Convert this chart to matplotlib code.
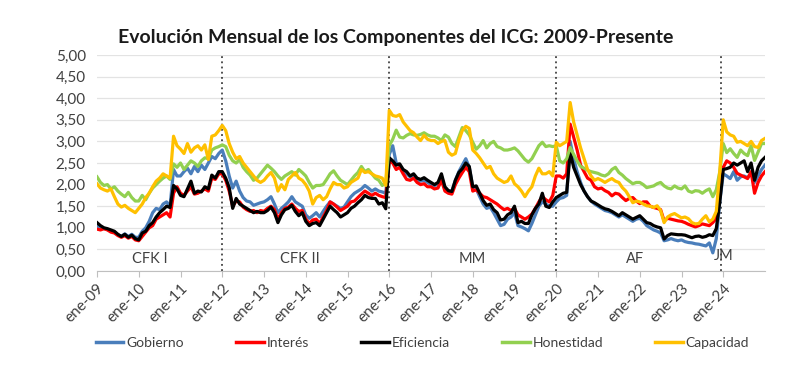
import matplotlib
matplotlib.use("Agg")
import matplotlib.pyplot as plt
from matplotlib.lines import Line2D
import numpy as np

plt.rcParams['font.family'] = ['Lato', 'DejaVu Sans']

# Monthly series, ene-09 .. ene-25 (one row per year)
gobierno = [
    1.05, 1.00, 0.98, 0.96, 0.93, 0.90, 0.84, 0.80, 0.86, 0.80, 0.85, 0.78,
    0.78, 0.92, 1.00, 1.15, 1.35, 1.45, 1.42, 1.55, 1.60, 1.50, 2.35, 2.20,
    2.20, 2.30, 2.38, 2.25, 2.42, 2.30, 2.45, 2.35, 2.50, 2.65, 2.60, 2.72,
    2.80, 2.55, 2.20, 1.92, 2.08, 1.85, 1.70, 1.62, 1.60, 1.52, 1.55, 1.58,
    1.60, 1.65, 1.72, 1.55, 1.35, 1.45, 1.52, 1.60, 1.72, 1.60, 1.55, 1.50,
    1.30, 1.22, 1.28, 1.35, 1.25, 1.38, 1.50, 1.60, 1.55, 1.50, 1.45, 1.48,
    1.60, 1.72, 1.80, 1.85, 1.90, 1.98, 1.92, 1.85, 1.90, 1.85, 1.83, 1.80,
    2.70, 2.90, 2.50, 2.45, 2.30, 2.25, 2.18, 2.22, 2.10, 2.08, 2.10, 2.05,
    2.00, 1.98, 2.00, 2.20, 1.90, 1.85, 1.85, 2.10, 2.30, 2.45, 2.60, 2.40,
    1.95, 1.90, 1.72, 1.55, 1.45, 1.48, 1.35, 1.20, 1.05, 1.08, 1.20, 1.25,
    1.35, 1.05, 1.02, 0.98, 0.93, 1.10, 1.30, 1.50, 1.60, 1.55, 1.50, 1.50,
    1.60, 1.68, 1.70, 1.75, 3.00, 2.60, 2.30, 2.05, 1.85, 1.72, 1.62, 1.55,
    1.50, 1.45, 1.40, 1.38, 1.35, 1.30, 1.25, 1.30, 1.25, 1.20, 1.15, 1.20,
    1.22, 1.15, 1.05, 1.00, 0.95, 0.92, 0.88, 0.70, 0.72, 0.75, 0.72, 0.70,
    0.72, 0.68, 0.66, 0.65, 0.63, 0.62, 0.60, 0.58, 0.65, 0.42, 0.75, 1.60,
    2.25, 2.20, 2.14, 2.30, 2.10, 2.18, 2.20, 2.16, 2.25, 2.05, 2.20, 2.35,
    2.45,
]
interes = [
    0.97, 0.95, 0.98, 0.95, 0.90, 0.88, 0.82, 0.78, 0.82, 0.76, 0.80, 0.72,
    0.70, 0.80, 0.90, 1.00, 1.05, 1.20, 1.25, 1.30, 1.35, 1.25, 1.80, 1.95,
    1.80, 1.75, 1.85, 1.95, 1.78, 1.80, 1.85, 1.90, 1.85, 2.15, 2.12, 2.25,
    2.25, 2.10, 1.85, 1.50, 1.62, 1.60, 1.48, 1.42, 1.38, 1.40, 1.35, 1.40,
    1.38, 1.45, 1.50, 1.42, 1.20, 1.35, 1.45, 1.48, 1.55, 1.45, 1.38, 1.40,
    1.20, 1.10, 1.18, 1.20, 1.10, 1.25, 1.40, 1.60, 1.55, 1.48, 1.40, 1.45,
    1.50, 1.60, 1.62, 1.70, 1.78, 1.85, 1.80, 1.75, 1.80, 1.75, 1.72, 1.70,
    2.55, 2.50, 2.35, 2.40, 2.25, 2.12, 2.10, 2.15, 2.05, 2.00, 2.02, 1.95,
    1.95, 1.90, 1.92, 2.10, 1.85, 1.80, 1.78, 2.00, 2.15, 2.28, 2.40, 2.30,
    1.85, 1.88, 1.80, 1.72, 1.70, 1.65, 1.60, 1.55, 1.48, 1.42, 1.45, 1.40,
    1.45, 1.30, 1.25, 1.20, 1.25, 1.32, 1.45, 1.60, 1.72, 1.65, 1.60, 1.75,
    2.20, 2.20, 2.15, 2.25, 3.40, 3.10, 2.80, 2.45, 2.30, 2.15, 2.10, 1.95,
    1.90, 1.92, 1.86, 1.82, 1.74, 1.80, 1.78, 1.70, 1.63, 1.68, 1.70, 1.62,
    1.56, 1.60, 1.60, 1.50, 1.47, 1.45, 1.42, 1.16, 1.22, 1.20, 1.18, 1.16,
    1.15, 1.12, 1.08, 1.05, 1.02, 1.05, 1.09, 1.07, 1.05, 1.12, 1.22, 1.90,
    2.40, 2.55, 2.50, 2.40, 2.26, 2.22, 2.18, 2.14, 2.30, 1.80, 2.05, 2.20,
    2.30,
]
eficiencia = [
    1.12, 1.05, 1.00, 0.98, 0.95, 0.92, 0.85, 0.80, 0.85, 0.78, 0.83, 0.75,
    0.72, 0.88, 0.92, 1.05, 1.12, 1.25, 1.35, 1.42, 1.50, 1.47, 1.98, 1.90,
    1.75, 1.72, 1.90, 2.08, 1.80, 1.85, 1.83, 1.95, 1.90, 2.22, 2.15, 2.30,
    2.30, 2.15, 1.93, 1.45, 1.68, 1.55, 1.50, 1.45, 1.40, 1.35, 1.38, 1.35,
    1.35, 1.40, 1.48, 1.35, 1.12, 1.30, 1.42, 1.45, 1.52, 1.38, 1.28, 1.35,
    1.15, 1.05, 1.10, 1.12, 1.05, 1.20, 1.35, 1.50, 1.42, 1.35, 1.25, 1.30,
    1.35, 1.45, 1.50, 1.58, 1.65, 1.75, 1.70, 1.68, 1.68, 1.55, 1.58, 1.44,
    2.62, 2.55, 2.45, 2.48, 2.35, 2.30, 2.20, 2.25, 2.15, 2.12, 2.16, 2.10,
    2.05, 2.00, 2.05, 2.25, 1.95, 1.86, 1.84, 2.10, 2.28, 2.37, 2.50, 2.42,
    1.95, 1.97, 1.80, 1.63, 1.52, 1.55, 1.42, 1.35, 1.18, 1.20, 1.30, 1.35,
    1.50, 1.12, 1.15, 1.10, 1.10, 1.30, 1.45, 1.55, 1.80, 1.50, 1.47, 1.60,
    1.70, 1.75, 1.80, 1.82, 2.75, 2.40, 2.20, 2.00, 1.85, 1.72, 1.62, 1.58,
    1.53, 1.48, 1.44, 1.42, 1.38, 1.33, 1.28, 1.35, 1.30, 1.25, 1.20, 1.24,
    1.28, 1.20, 1.12, 1.10, 1.05, 1.02, 1.00, 0.74, 0.82, 0.86, 0.85, 0.84,
    0.84, 0.83, 0.80, 0.77, 0.80, 0.81, 0.78, 0.80, 0.84, 0.82, 0.98, 1.60,
    2.35, 2.37, 2.40, 2.50, 2.45, 2.50, 2.55, 2.30, 2.50, 2.10, 2.40, 2.55,
    2.63,
]
honestidad = [
    2.18, 2.05, 1.98, 2.00, 1.90, 1.95, 1.85, 1.78, 1.72, 1.82, 1.70, 1.62,
    1.62, 1.75, 1.65, 1.80, 1.92, 2.00, 2.08, 2.15, 2.20, 2.12, 2.48, 2.40,
    2.50, 2.35, 2.45, 2.55, 2.50, 2.42, 2.55, 2.62, 2.60, 2.80, 2.85, 2.88,
    2.92, 2.88, 2.68, 2.55, 2.50, 2.58, 2.40, 2.30, 2.22, 2.10, 2.15, 2.25,
    2.35, 2.45, 2.38, 2.30, 2.20, 2.12, 2.20, 2.25, 2.30, 2.22, 2.35, 2.28,
    2.20, 2.05, 1.92, 1.98, 1.98, 2.00, 2.12, 2.25, 2.32, 2.20, 2.10, 2.05,
    2.00, 2.10, 2.20, 2.28, 2.42, 2.30, 2.35, 2.25, 2.15, 2.10, 1.98, 2.05,
    2.90, 3.05, 3.26, 3.10, 3.08, 3.14, 3.18, 3.15, 3.14, 3.16, 3.20, 3.15,
    3.12, 3.12, 3.08, 3.02, 3.15, 3.10, 2.95, 2.88, 3.10, 3.32, 3.25, 3.15,
    2.98, 2.82, 2.90, 3.02, 2.85, 2.95, 3.00, 2.88, 2.85, 2.80, 2.80, 2.82,
    2.85, 2.78, 2.68, 2.58, 2.52, 2.60, 2.75, 2.90, 2.98, 2.88, 2.90, 2.88,
    2.90, 2.55, 2.50, 2.60, 2.86, 2.70, 2.55, 2.42, 2.38, 2.33, 2.30, 2.28,
    2.26, 2.22, 2.20, 2.25, 2.35, 2.40, 2.28, 2.22, 2.14, 2.08, 2.02, 2.05,
    2.05, 2.00, 1.93, 1.95, 1.97, 2.02, 2.05, 1.97, 1.92, 1.90, 1.97, 1.92,
    1.90, 1.97, 1.85, 1.82, 1.86, 1.85, 1.80, 1.86, 1.90, 1.72, 1.88, 2.30,
    2.95, 2.74, 2.83, 2.72, 2.63, 2.80, 2.72, 2.67, 2.90, 2.56, 2.75, 2.95,
    2.95,
]
capacidad = [
    2.02, 1.92, 1.88, 1.85, 1.90, 1.72, 1.55, 1.48, 1.52, 1.45, 1.40, 1.35,
    1.45, 1.55, 1.70, 1.80, 1.95, 2.08, 2.15, 2.25, 2.20, 2.15, 3.12, 2.90,
    2.82, 2.72, 2.95, 2.75, 2.85, 2.90, 2.80, 2.92, 2.58, 3.12, 3.15, 3.25,
    3.37, 3.25, 2.95, 2.75, 2.60, 2.65, 2.50, 2.40, 2.30, 2.20, 2.10, 2.05,
    2.10, 2.20, 2.28, 2.15, 1.85, 2.00, 1.88, 2.12, 2.20, 2.28, 2.15, 2.10,
    2.00, 1.85, 1.55, 1.70, 1.75, 1.65, 1.72, 1.90, 2.05, 2.00, 2.00, 1.92,
    1.95, 2.05, 2.10, 2.15, 2.35, 2.28, 2.30, 2.25, 2.20, 2.18, 2.15, 1.98,
    3.72, 3.60, 3.58, 3.62, 3.45, 3.35, 3.25, 3.20, 3.10, 3.02, 3.14, 3.05,
    3.02, 3.02, 2.95, 3.00, 3.02, 2.75, 2.68, 2.72, 3.02, 3.25, 3.35, 3.30,
    2.80, 2.72, 2.62, 2.50, 2.38, 2.42, 2.25, 2.15, 2.10, 2.05, 2.08, 2.20,
    2.02, 1.95, 1.85, 1.72, 1.85, 1.95, 2.20, 2.38, 2.25, 2.25, 2.30, 2.20,
    2.98, 2.90, 2.95, 3.00, 3.90, 3.45, 3.15, 2.85, 2.60, 2.35, 2.20, 2.10,
    2.14, 2.10, 2.05, 2.10, 2.14, 2.08, 2.05, 1.93, 1.85, 1.72, 1.58, 1.62,
    1.60, 1.55, 1.51, 1.50, 1.47, 1.51, 1.40, 1.12, 1.25, 1.30, 1.33, 1.28,
    1.23, 1.25, 1.21, 1.12, 1.09, 1.10, 1.20, 1.28, 1.14, 1.20, 1.38, 2.30,
    3.50, 3.22, 3.15, 3.12, 2.98, 3.00, 2.95, 2.90, 3.00, 2.88, 2.86, 3.02,
    3.07,
]

series_names = ["Gobierno", "Interés", "Eficiencia", "Honestidad", "Capacidad"]
series_colors = ["#4A7EBB", "#FF0000", "#000000", "#92D050", "#FFC000"]
year_labels = ["ene-09", "ene-10", "ene-11", "ene-12", "ene-13", "ene-14", "ene-15",
               "ene-16", "ene-17", "ene-18", "ene-19", "ene-20", "ene-21", "ene-22",
               "ene-23", "ene-24"]
period_labels = ["CFK I", "CFK II", "MM", "AF", "JM"]
period_label_pos = [15.2, 58.3, 107.8, 154.6, 180.0]
period_breaks = [36, 84, 132, 179.4]

fig = plt.figure(figsize=(8.0, 3.66), dpi=100)
ax = fig.add_axes([97/800, 1 - 271/366, (765 - 97)/800, (271 - 55)/366])

months = np.arange(len(gobierno))
all_series = [gobierno, interes, eficiencia, honestidad, capacidad]
for vals, name, col in zip(all_series, series_names, series_colors):
    ax.plot(months, vals, color=col, lw=2.3, label=name, solid_joinstyle='round')

for b in period_breaks:
    ax.axvline(b, color='#222222', lw=1.1, ls=(0, (1.2, 2.2)), zorder=1)

for lab, pos in zip(period_labels, period_label_pos):
    yv = 0.35 if lab == "JM" else 0.28
    ax.text(pos, yv, lab, ha='center', va='center', fontsize=10.5, color='#404040')

ax.set_xlim(0, 192)
ax.set_ylim(0, 5)
ax.set_yticks(np.arange(0, 5.01, 0.5))
ax.set_yticklabels([f"{v:.2f}".replace('.', ',') for v in np.arange(0, 5.01, 0.5)],
                   fontsize=11, color='#404040')
ax.set_xticks(np.arange(0, 181, 12))
ax.set_xticklabels(year_labels, rotation=45, ha='right', va='top',
                   rotation_mode='anchor', fontsize=11, color='#404040')
ax.tick_params(axis='y', length=0, pad=8)
ax.tick_params(axis='x', length=4, color='#BFBFBF', pad=3)
ax.grid(axis='y', color='#E3E3E3', lw=0.9)
ax.set_axisbelow(True)
for s in ['top', 'right', 'left']:
    ax.spines[s].set_visible(False)
ax.spines['bottom'].set_color('#BFBFBF')

fig.text(0.494, 0.898, "Evolución Mensual de los Componentes del ICG: 2009-Presente",
         ha='center', va='center', fontsize=14, fontweight='bold', color='#1a1a1a')

handles = [Line2D([0], [0], color=c, lw=2.5) for c in series_colors]
fig.legend(handles, series_names, loc='center', bbox_to_anchor=(0.528, 0.063), ncol=5,
           frameon=False, fontsize=10, handlelength=2.0, handletextpad=0.2,
           columnspacing=3.75, labelcolor='#404040')

fig.savefig("out.png", dpi=100)
